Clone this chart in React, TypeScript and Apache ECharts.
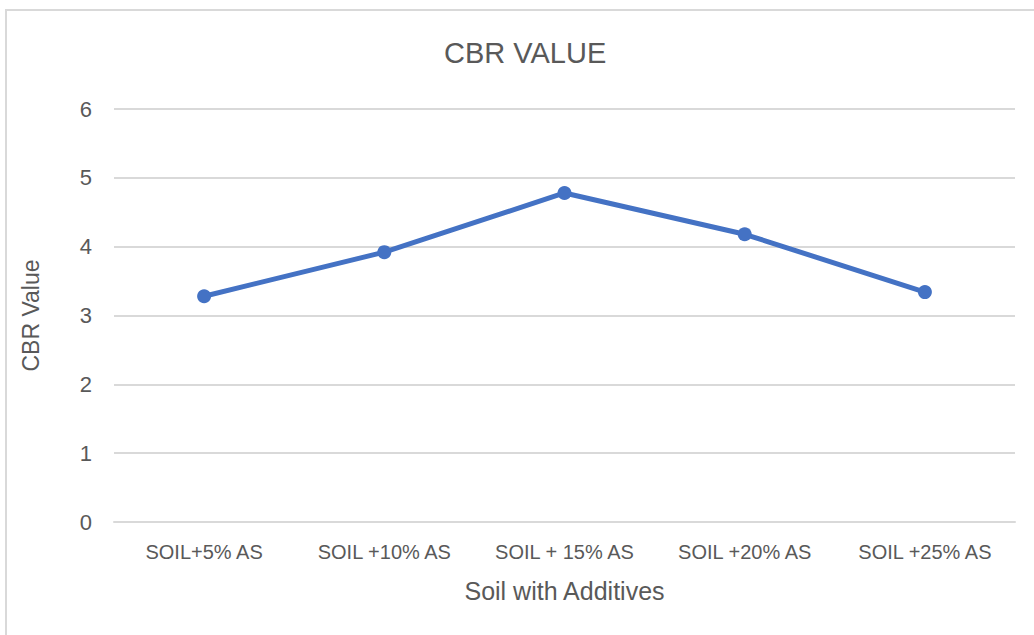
import React, { useEffect, useRef } from "react";
import * as echarts from "echarts";

const categories = ["SOIL+5% AS", "SOIL +10% AS", "SOIL + 15% AS", "SOIL +20% AS", "SOIL +25% AS"];
const cbrValues = [3.28, 3.92, 4.78, 4.18, 3.34];
const yTicks = { min: 0, max: 6, interval: 1 };

const FONT = "'Liberation Sans', Arial, sans-serif";

export default function App() {
  const ref = useRef<HTMLDivElement>(null);
  useEffect(() => {
    if (!ref.current) return;
    const chart = echarts.init(ref.current, undefined, { renderer: "svg" });
    chart.setOption({
      animation: false,
      textStyle: { fontFamily: FONT },
      graphic: [
        {
          type: "rect",
          shape: { x: 6, y: 10, width: 1100, height: 700 },
          style: { fill: "none", stroke: "#d9d9d9", lineWidth: 2 },
          silent: true,
        },
      ],
      title: {
        text: "CBR VALUE",
        left: 439,
        top: 33,
        textStyle: { fontFamily: FONT, fontSize: 29, fontWeight: "normal", color: "#595959" },
      },
      grid: { left: 114, right: 19, top: 109, bottom: 113, containLabel: false, outerBoundsMode: "none" },
      xAxis: {
        type: "category",
        data: categories,
        boundaryGap: true,
        name: "Soil with Additives",
        nameLocation: "middle",
        nameGap: 56,
        nameTextStyle: { fontFamily: FONT, fontSize: 25, color: "#595959" },
        axisLine: { show: true, lineStyle: { color: "#d9d9d9", width: 2 } },
        axisTick: { show: false },
        axisLabel: { fontFamily: FONT, fontSize: 20, color: "#595959", margin: 20, interval: 0 },
      },
      yAxis: {
        type: "value",
        min: yTicks.min,
        max: yTicks.max,
        interval: yTicks.interval,
        name: "CBR Value",
        nameLocation: "middle",
        nameGap: 72,
        nameTextStyle: { fontFamily: FONT, fontSize: 23, color: "#595959" },
        axisLine: { show: false },
        axisTick: { show: false },
        splitLine: { lineStyle: { color: "#d9d9d9", width: 2 } },
        axisLabel: { fontFamily: FONT, fontSize: 22, color: "#595959", margin: 22 },
      },
      series: [
        {
          type: "line",
          data: cbrValues,
          symbol: "circle",
          symbolSize: 14,
          lineStyle: { color: "#4472C4", width: 5 },
          itemStyle: { color: "#4472C4" },
        },
      ],
    });
    return () => chart.dispose();
  }, []);
  return <div ref={ref} style={{ width: 1034, height: 635, position: "absolute", left: 0, top: 0 }} />;
}
